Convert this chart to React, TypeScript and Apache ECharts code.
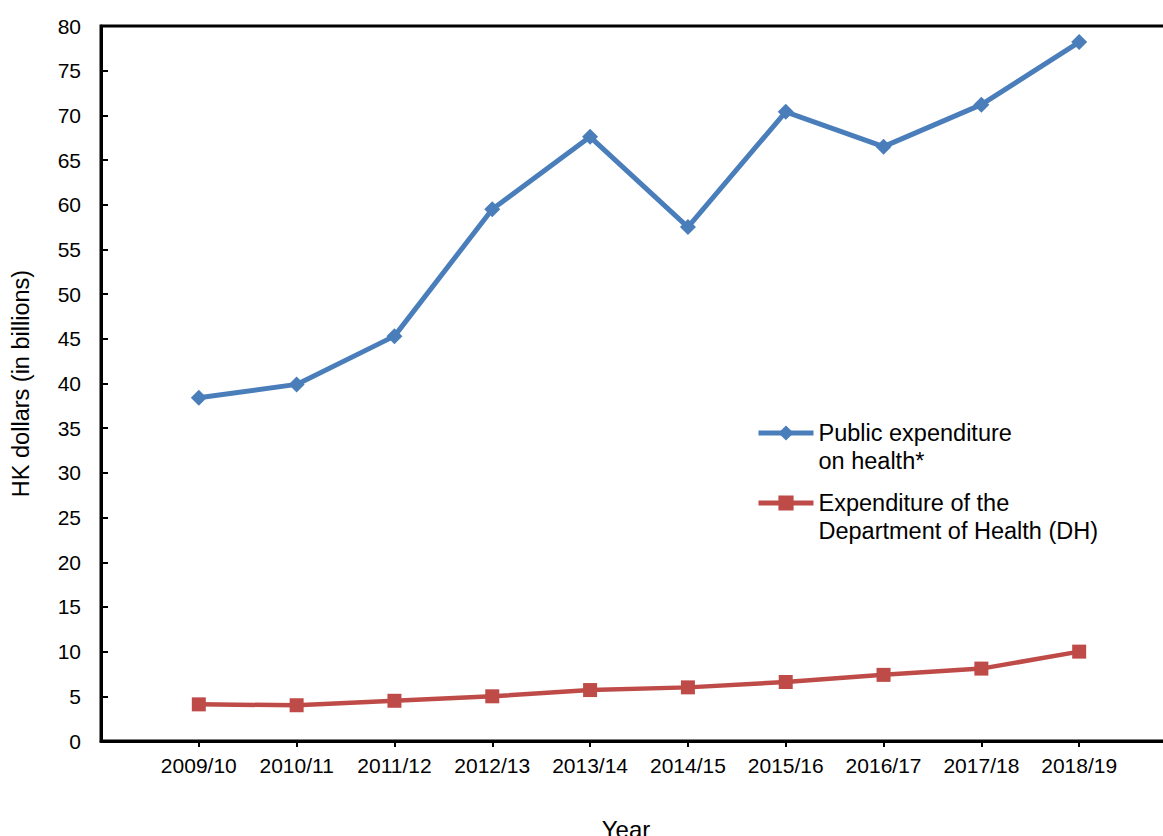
import React, { useEffect, useRef } from "react";
import * as echarts from "echarts";

const categories = ["", "2009/10", "2010/11", "2011/12", "2012/13", "2013/14", "2014/15", "2015/16", "2016/17", "2017/18", "2018/19", ""];
const publicHealth = [null, 38.4, 39.9, 45.3, 59.5, 67.6, 57.5, 70.4, 66.5, 71.2, 78.2, null];
const dhExpenditure = [null, 4.1, 4.0, 4.5, 5.0, 5.7, 6.0, 6.6, 7.4, 8.1, 10.0, null];
const seriesNames = ["Public expenditure\non health*", "Expenditure of the\nDepartment of Health (DH)"];

const FONT = "Liberation Sans, Arial, sans-serif";
const BLUE = "#4a7ebb";
const RED = "#be4b48";

export default function App() {
  const ref = useRef<HTMLDivElement>(null);
  useEffect(() => {
    const chart = echarts.init(ref.current!, null, { renderer: "svg" });
    const legendBase = {
      left: 751,
      itemWidth: 55,
      itemHeight: 19,
      itemGap: 3,
      formatter: (name: string) => " \n" + name,
      lineStyle: { width: 5 },
      textStyle: {
        fontFamily: FONT,
        fontSize: 23.5,
        color: "#000",
        lineHeight: 28,
      },
    };
    chart.setOption({
      animation: false,
      backgroundColor: "#fff",
      grid: {
        left: 101,
        top: 26,
        bottom: 95,
        right: -14,
        outerBoundsMode: "none",
        containLabel: false,
        show: true,
        borderColor: "#000",
        borderWidth: 3,
        backgroundColor: "transparent",
      },
      legend: [
        { ...legendBase, data: [seriesNames[0]], top: 386 },
        { ...legendBase, data: [seriesNames[1]], top: 456 },
      ],
      xAxis: {
        type: "category",
        data: categories,
        boundaryGap: false,
        name: "Year",
        nameLocation: "middle",
        nameGap: 76,
        nameTextStyle: { fontFamily: FONT, fontSize: 24, color: "#000", padding: [0, 26, 0, 0] },
        axisLine: { lineStyle: { color: "#000", width: 3 } },
        axisTick: {
          inside: false,
          length: 6,
          lineStyle: { color: "#000", width: 2 },
          interval: (i: number, v: string) => v !== "",
        },
        axisLabel: {
          fontFamily: FONT,
          fontSize: 21,
          color: "#000",
          margin: 14,
          interval: 0,
        },
        splitLine: { show: false },
      },
      yAxis: {
        type: "value",
        min: 0,
        max: 80,
        interval: 5,
        name: "HK dollars (in billions)",
        nameLocation: "middle",
        nameGap: 68,
        nameTextStyle: { fontFamily: FONT, fontSize: 23.5, color: "#000" },
        axisLine: { show: true, lineStyle: { color: "#000", width: 3 } },
        axisTick: { show: true, inside: true, length: 7, lineStyle: { color: "#000", width: 2 } },
        axisLabel: { fontFamily: FONT, fontSize: 21, color: "#000", margin: 20 },
        splitLine: { show: false },
      },
      series: [
        {
          name: seriesNames[0],
          type: "line",
          data: publicHealth,
          symbol: "diamond",
          symbolSize: 16,
          lineStyle: { color: BLUE, width: 5 },
          itemStyle: { color: BLUE },
        },
        {
          name: seriesNames[1],
          type: "line",
          data: dhExpenditure,
          symbol: "rect",
          symbolSize: 14,
          lineStyle: { color: RED, width: 4.5 },
          itemStyle: { color: RED },
        },
      ],
    });
    return () => chart.dispose();
  }, []);
  return (
    <div
      ref={ref}
      style={{ position: "fixed", left: 0, top: 0, width: 1163, height: 836 }}
    />
  );
}
